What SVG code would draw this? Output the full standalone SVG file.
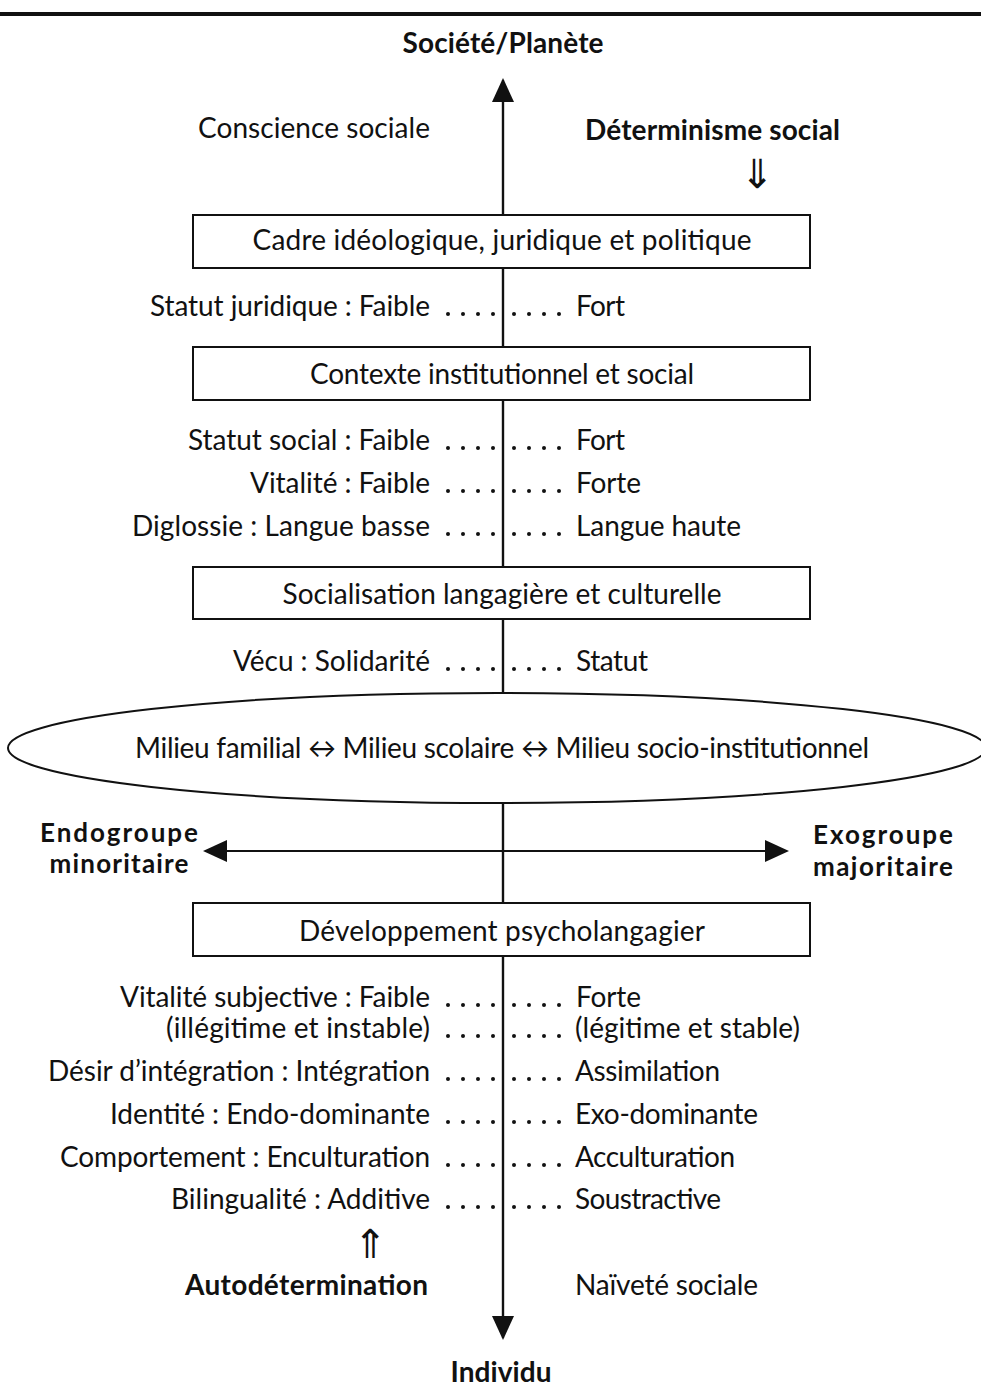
<svg xmlns="http://www.w3.org/2000/svg" width="981" height="1393" viewBox="0 0 981 1393">
<style>
text{font-family:Lato,"Noto Sans","Liberation Sans",sans-serif;font-size:28px;fill:#111}
.b{font-weight:bold}
.g{font-size:26px}
.m{text-anchor:middle}
.e{text-anchor:end}
.arr{font-family:"DejaVu Sans",sans-serif;font-size:40px;text-anchor:middle}
.box{fill:#fff;stroke:#111;stroke-width:2}
.ln{stroke:#111;stroke-width:2.2;fill:none}
.dot{fill:#111}
</style>
<defs>
<marker id="ah" markerUnits="userSpaceOnUse" markerWidth="24" markerHeight="24" viewBox="0 0 24 24" refX="22" refY="12" orient="auto">
<path d="M0,1 L24,12 L0,23 Z" fill="#111"/>
</marker>
<g id="dots">
<circle class="dot" cx="448" cy="0" r="2"/><circle class="dot" cx="463" cy="0" r="2"/><circle class="dot" cx="478" cy="0" r="2"/><circle class="dot" cx="493" cy="0" r="2"/>
<circle class="dot" cx="514" cy="0" r="2"/><circle class="dot" cx="529" cy="0" r="2"/><circle class="dot" cx="544" cy="0" r="2"/><circle class="dot" cx="559" cy="0" r="2"/>
</g>
</defs>
<rect width="981" height="1393" fill="#fff"/>
<line x1="0" y1="14" x2="981" y2="14" stroke="#111" stroke-width="4"/>

<g id="connectors">
<line class="ln" x1="503" y1="1318" x2="503" y2="80" marker-end="url(#ah)"/>
<line class="ln" x1="503" y1="100" x2="503" y2="1338" marker-end="url(#ah)"/>
<line class="ln" x1="500" y1="851" x2="787" y2="851" marker-end="url(#ah)"/>
<line class="ln" x1="505" y1="851" x2="205" y2="851" marker-end="url(#ah)"/>
</g>

<g id="top-label"><text class="b m" x="503" y="53" textLength="201">Société/Planète</text></g>
<g id="conscience"><text x="198" y="138" textLength="232">Conscience sociale</text></g>
<g id="determinisme"><text class="b" x="585" y="140" textLength="255">Déterminisme social</text>
<text class="arr" x="757" y="188">⇓</text></g>

<g id="box1"><rect class="box" x="193" y="215" width="617" height="53"/>
<text class="m" x="502" y="250" textLength="499">Cadre idéologique, juridique et politique</text></g>

<g id="row-statut-juridique"><text class="e" x="430" y="316" textLength="280">Statut juridique : Faible</text>
<use href="#dots" y="314"/><text x="576" y="316" textLength="49">Fort</text></g>

<g id="box2"><rect class="box" x="193" y="347" width="617" height="53"/>
<text class="m" x="502" y="384" textLength="384">Contexte institutionnel et social</text></g>

<g id="row-statut-social"><text class="e" x="430" y="450" textLength="242">Statut social : Faible</text>
<use href="#dots" y="448"/><text x="576" y="450" textLength="49">Fort</text></g>
<g id="row-vitalite"><text class="e" x="430" y="493" textLength="180">Vitalité : Faible</text>
<use href="#dots" y="491"/><text x="576" y="493" textLength="65">Forte</text></g>
<g id="row-diglossie"><text class="e" x="430" y="536" textLength="298">Diglossie : Langue basse</text>
<use href="#dots" y="534"/><text x="576" y="536" textLength="165">Langue haute</text></g>

<g id="box3"><rect class="box" x="193" y="567" width="617" height="52"/>
<text class="m" x="502" y="604" textLength="439">Socialisation langagière et culturelle</text></g>

<g id="row-vecu"><text class="e" x="430" y="671" textLength="197">Vécu : Solidarité</text>
<use href="#dots" y="669"/><text x="576" y="671" textLength="72">Statut</text></g>

<g id="milieu"><ellipse class="box" cx="497" cy="748" rx="489" ry="55"/>
<text x="135" y="758" textLength="734">Milieu familial ↔ Milieu scolaire ↔ Milieu socio-institutionnel</text></g>

<g id="endogroupe"><text class="b m g" x="119" y="842" textLength="158">Endogroupe</text>
<text class="b m g" x="119" y="873" textLength="139">minoritaire</text></g>
<g id="exogroupe"><text class="b m g" x="883" y="844" textLength="140">Exogroupe</text>
<text class="b m g" x="883" y="876" textLength="140">majoritaire</text></g>

<g id="box4"><rect class="box" x="193" y="903" width="617" height="53"/>
<text class="m" x="502" y="941" textLength="406">Développement psycholangagier</text></g>

<g id="row-vitalite-subj"><text class="e" x="430" y="1007" textLength="310">Vitalité subjective : Faible</text>
<use href="#dots" y="1005"/><text x="576" y="1007" textLength="65">Forte</text></g>
<g id="row-legitime"><text class="e" x="430" y="1038" textLength="264">(illégitime et instable)</text>
<use href="#dots" y="1036"/><text x="575" y="1038" textLength="225">(légitime et stable)</text></g>
<g id="row-desir"><text class="e" x="430" y="1081" textLength="382">Désir d’intégration : Intégration</text>
<use href="#dots" y="1079"/><text x="575" y="1081" textLength="145">Assimilation</text></g>
<g id="row-identite"><text class="e" x="430" y="1124" textLength="320">Identité : Endo-dominante</text>
<use href="#dots" y="1122"/><text x="575" y="1124" textLength="183">Exo-dominante</text></g>
<g id="row-comportement"><text class="e" x="430" y="1167" textLength="370">Comportement : Enculturation</text>
<use href="#dots" y="1165"/><text x="575" y="1167" textLength="160">Acculturation</text></g>
<g id="row-bilingualite"><text class="e" x="430" y="1209" textLength="259">Bilingualité : Additive</text>
<use href="#dots" y="1207"/><text x="575" y="1209" textLength="146">Soustractive</text></g>

<g id="autodetermination"><text class="arr" x="370" y="1258">⇑</text>
<text class="b" x="185" y="1295" textLength="243">Autodétermination</text></g>
<g id="naivete"><text x="575" y="1295" textLength="183">Naïveté sociale</text></g>
<g id="bottom-label"><text class="b m" x="501" y="1382" textLength="101">Individu</text></g>
</svg>
